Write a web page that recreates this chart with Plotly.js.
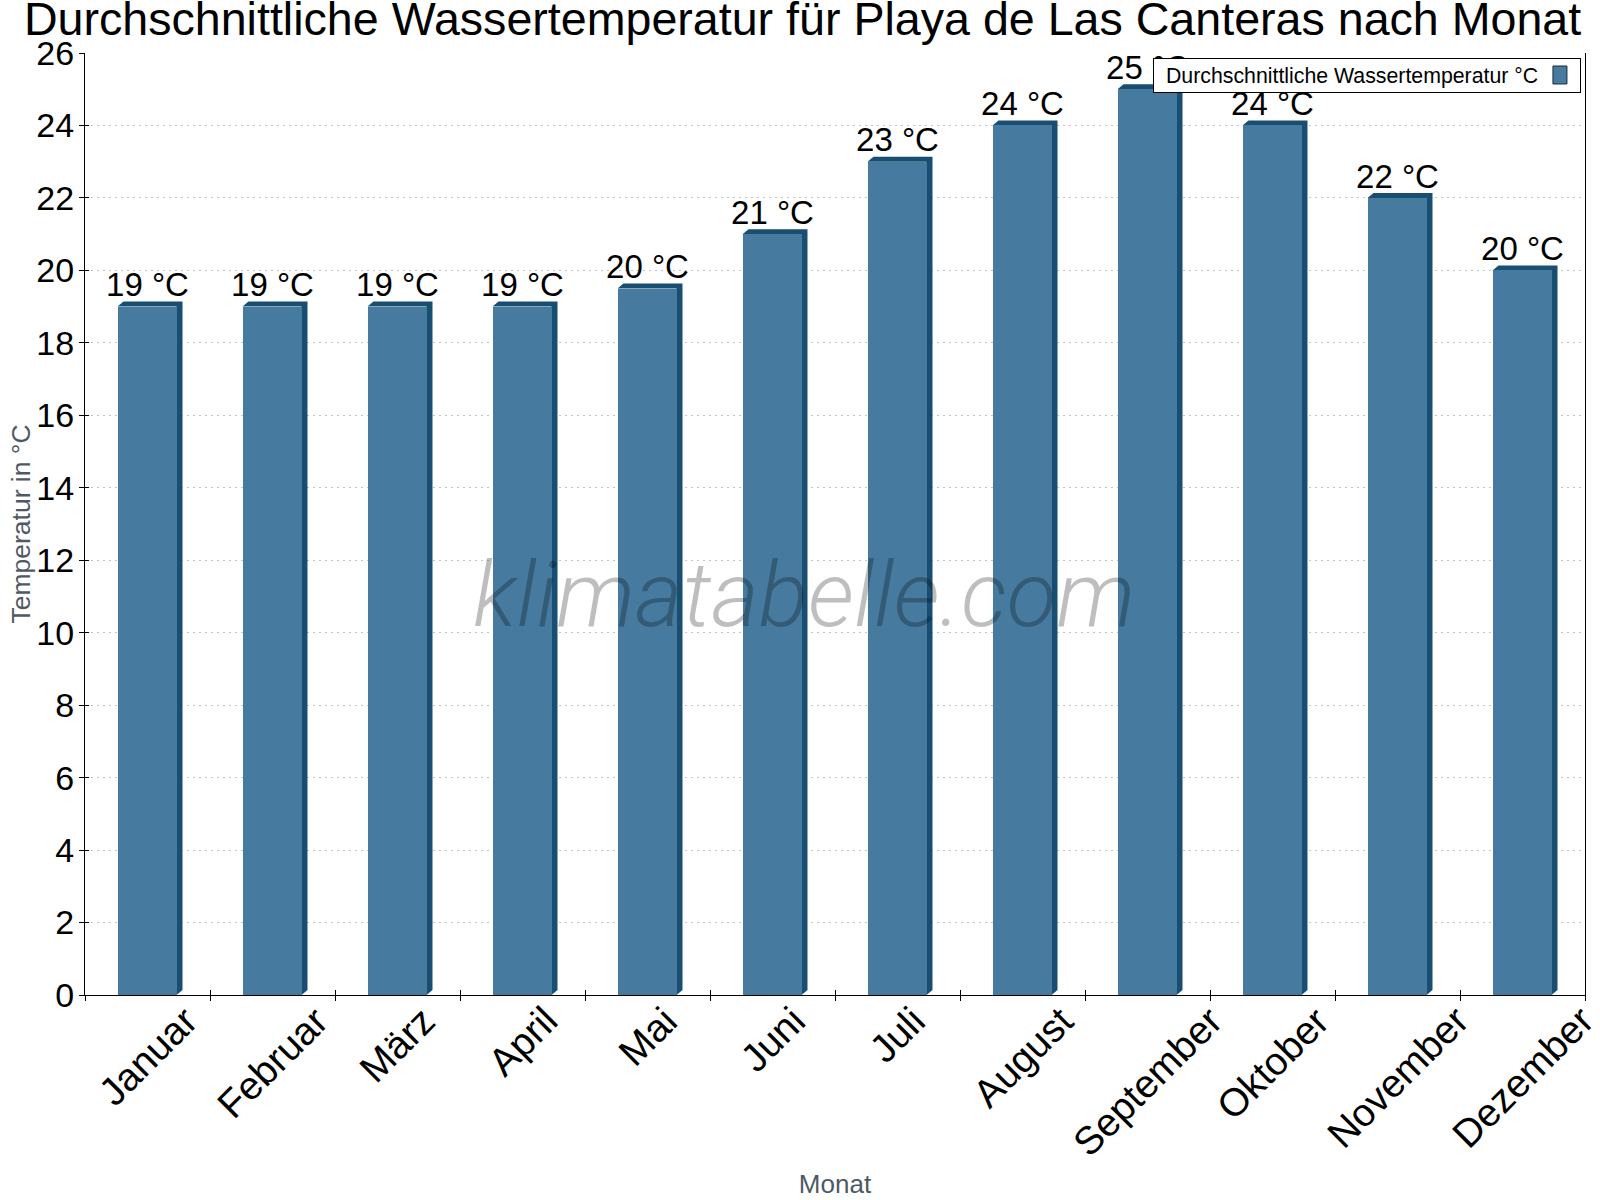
<!DOCTYPE html>
<html><head><meta charset="utf-8">
<script src="https://cdn.plot.ly/plotly-3.0.1.min.js"></script>
<style>html,body{margin:0;padding:0;background:#fff}</style></head>
<body><div id="chart" style="width:1600px;height:1200px"></div>
<script>
const months = ["Januar","Februar","März","April","Mai","Juni","Juli","August","September","Oktober","November","Dezember"];
const waterTemp = [19,19,19,19,19.5,21,23,24,25,24,22,20];
const valueLabels = ["19 °C","19 °C","19 °C","19 °C","20 °C","21 °C","23 °C","24 °C","25 °C","24 °C","22 °C","20 °C"];
const yTicks = [0,2,4,6,8,10,12,14,16,18,20,22,24,26];
const titleText = "Durchschnittliche Wassertemperatur für Playa de Las Canteras nach Monat";
const seriesName = "Durchschnittliche Wassertemperatur °C";

const FONT = "Liberation Sans, Arial, sans-serif";
const FRONT = "#467a9e", SIDE = "#184e72", INK = "#000", GREY = "#4f5965";
const idx = months.map((_, i) => i);
const L = -0.24, R = 0.232, DX = 0.048, DY = 0.138, LIFT = 0.055;

// extruded side + top of every bar, derived from its value
const px = [], py = [];
waterTemp.forEach((v, i) => {
  px.push(i+L, i+L+DX, i+R+DX, i+R+DX, i+R, i+R, i+L, null);
  py.push(v, v+DY, v+DY, DY, 0, v, v, null);
});

const traces = [
  {type:"scatter", mode:"lines", x:px, y:py, fill:"toself", fillcolor:SIDE, line:{width:0,color:SIDE},
   showlegend:false, hoverinfo:"skip", xaxis:"x", yaxis:"y"},
  {type:"bar", name:seriesName, x:idx, y:waterTemp, width:R-L, offset:L, marker:{color:FRONT},
   showlegend:true, xaxis:"x2", yaxis:"y2"},
  {type:"scatter", mode:"text", x:idx, y:waterTemp.map(v=>v+LIFT), text:valueLabels, textposition:"top center",
   textfont:{family:FONT,size:33,color:INK}, showlegend:false, hoverinfo:"skip", cliponaxis:false, xaxis:"x2", yaxis:"y2"}
];

const boundaries = months.map((_, i) => i-0.5).concat([months.length-0.5]);
const xBase = {range:[-0.5,11.5], tickmode:"array", tickvals:boundaries, ticktext:boundaries.map(()=>""),
  tickcolor:INK, ticklen:5, tickwidth:1, showgrid:false, zeroline:false, showticklabels:false, fixedrange:true};

const annotations = months.map((m,i)=>({
  x:i, xref:"x", y:-0.001, yref:"paper", text:m, textangle:-45, showarrow:false, xanchor:"center", yanchor:"top",
  font:{family:FONT,size:39,color:INK}
}));
annotations.push({xref:"paper",yref:"paper",x:0.4795,y:0.425,text:"klimatabelle.com",showarrow:false,
  font:{family:"Roboto, "+FONT,size:91.5,color:"#000",weight:300,style:"italic"},opacity:0.25});

const layout = {
  width:1600,height:1200,paper_bgcolor:"#fff",plot_bgcolor:"#fff",
  margin:{l:84.5,r:15,t:53,b:205,autoexpand:false},
  font:{family:FONT,color:INK},
  title:{text:titleText,font:{family:FONT,size:46.6,color:INK},x:0.5016,xref:"container",y:0.998,yanchor:"top"},
  showlegend:true,
  legend:{x:0.9973,xanchor:"right",y:0.9947,yanchor:"top",bgcolor:"#fff",bordercolor:INK,borderwidth:1,
    font:{family:FONT,size:21.3,color:INK},itemwidth:38},
  xaxis:Object.assign({},xBase,{ticks:"outside",showline:true,linecolor:INK,linewidth:1,
    title:{text:"Monat",font:{family:FONT,size:26,color:GREY},standoff:174}}),
  xaxis2:Object.assign({},xBase,{ticks:"inside",overlaying:"x",anchor:"y2",showline:false}),
  yaxis:{range:[0,26],tickmode:"array",tickvals:yTicks,ticks:"outside",ticklen:5,tickcolor:INK,showline:true,
    linecolor:INK,linewidth:1,mirror:true,zeroline:false,showgrid:true,gridcolor:"#c4c4c4",griddash:"2px,4px",gridwidth:1,
    tickfont:{family:FONT,size:34,color:INK},ticklabelstandoff:-2,fixedrange:true,
    title:{text:"Temperatur in °C",font:{family:FONT,size:26.5,color:GREY},standoff:5}},
  yaxis2:{range:[0,26],tickmode:"array",tickvals:yTicks,ticks:"inside",ticklen:4,tickcolor:INK,overlaying:"y",anchor:"x2",
    showline:false,showgrid:false,zeroline:false,showticklabels:false,fixedrange:true},
  annotations:annotations,
  bargap:0
};
Plotly.newPlot("chart",traces,layout,{displayModeBar:false,staticPlot:true}).then(gd=>{
  // the reference's legend box is 34px tall with the swatch on the right of the text
  const bg = gd.querySelector(".legend .bg");
  const w = parseFloat(bg.getAttribute("width"));
  bg.setAttribute("height", 34);
  const tr = gd.querySelector(".legend .traces");
  tr.setAttribute("transform", "translate(1,17)");
  tr.querySelector(".legendtext").setAttribute("x", 12);
  const sw = tr.querySelector(".legendpoints path");
  if (sw) {
    sw.setAttribute("d", "M7,9H-7V-9H7Z");
    sw.setAttribute("transform", "translate(" + (w-21) + ",0)");
    sw.style.stroke = "#1c2b3a"; sw.style.strokeWidth = "1px";
  }
  const yt = gd.querySelector(".ytitle");
  if (yt) yt.setAttribute("transform", "translate(6,0) " + (yt.getAttribute("transform") || ""));
});
</script></body></html>
